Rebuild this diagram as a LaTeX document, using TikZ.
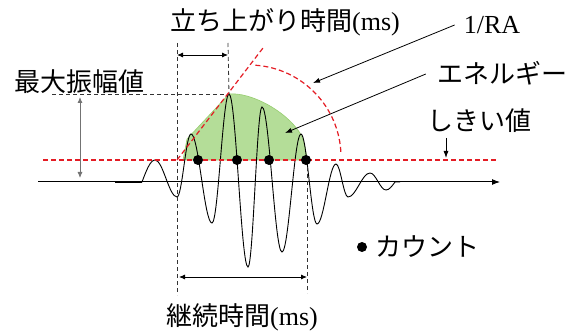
\documentclass[tikz,border=0pt]{standalone}
\usepackage{fontspec}
\setmainfont{Liberation Serif}
\newfontfamily\jp{Noto Sans CJK JP}
\usetikzlibrary{arrows.meta,calc}
\definecolor{dashred}{RGB}{228,28,36}
\definecolor{envgreen}{RGB}{180,221,152}
\definecolor{envedge}{RGB}{150,205,110}
\begin{document}
\begin{tikzpicture}[x=1pt,y=-1pt,
  lbl/.style={inner sep=0pt, font=\fontsize{26}{30}\selectfont},
  blackdash/.style={draw=black!80, dash pattern=on 4pt off 3pt, line width=0.8pt},
  reddash/.style={draw=dashred, dash pattern=on 5pt off 3pt, line width=1.2pt},
  wave/.style={line width=0.9pt, black},
  dimarrow/.style={{Latex[length=6pt,width=5pt]}-{Latex[length=6pt,width=5pt]}, line width=0.8pt},
  ptr/.style={-{Latex[length=7pt,width=5pt]}, line width=0.8pt},
  cnt/.style={circle, fill=black, inner sep=0pt, minimum size=10pt}
]
\useasboundingbox (0,0) rectangle (576,334);

% energy envelope
\fill[envgreen, draw=envedge, line width=0.6pt] (183,160) -- (187,139) -- (229,94)
  .. controls (250,92) and (285,110) .. (300,133)
  .. controls (304,140) and (306,150) .. (307,160) -- cycle;

% coordinates
\coordinate (thL) at (43,160);
\coordinate (thR) at (498,160);
\coordinate (baseL) at (38,182);
\coordinate (baseR) at (500,182);
\coordinate (peak) at (229,94);
\coordinate (slopeA) at (177,160);
\coordinate (slopeB) at (263,48);
\coordinate (arcC) at (249,157);

% baseline
\draw[line width=1pt, -{Latex[length=8pt,width=6pt]}] (baseL) -- (baseR);
\draw[line width=2pt] (115,182) -- (142,182);

% waveform
\draw[wave] (115,182) -- (142,182) sin (155,160) cos (166,178.5) sin (177,197)
  cos (184,165.5) sin (191,134) cos (201.5,178.5) sin (212,223)
  cos (220.5,158.5) sin (229,94) cos (238.5,180.5) sin (248,267)
  cos (255,187) sin (262,107) cos (272,179.5) sin (282,252)
  cos (291.5,193) sin (301,134) cos (309,179) sin (317,224)
  cos (326.5,194) sin (336,164) cos (342,180.5) sin (348,197)
  cos (359,185) sin (370,173) cos (378,181.5) sin (386,190)
  cos (395,182) -- (400,182);

% dashed guide lines
\coordinate (vL1) at (177,43);
\coordinate (vL2) at (177,295);
\coordinate (vM1) at (228,43);
\coordinate (vR1) at (307,160);
\coordinate (vR2) at (307,293);
\coordinate (hA) at (52,94);
\draw[blackdash] (vL1) -- (vL2);
\draw[blackdash] (vM1) -- (peak);
\draw[blackdash] (vR1) -- (vR2);
\draw[blackdash] (hA) -- (peak);

% threshold and rise slope
\draw[reddash] (thL) -- (thR);
\draw[reddash] (slopeA) -- (slopeB);
\draw[reddash] ($(arcC)+(-86:92)$) arc[start angle=-86, end angle=-2, radius=92];

% count dots
\node[cnt] (d1) at (198,160) {};
\node[cnt] (d2) at (237,160) {};
\node[cnt] (d3) at (269,160) {};
\node[cnt] (d4) at (306,160) {};

% dimension arrows
\coordinate (r1) at (177,55);
\coordinate (r2) at (228,55);
\draw[dimarrow] (r1) -- (r2);
\coordinate (u1) at (179,277);
\coordinate (u2) at (307,277);
\draw[dimarrow] (u1) -- (u2);
\coordinate (m1) at (80,97);
\coordinate (m2) at (80,178);
\draw[dimarrow, draw=black!55] (m1) -- (m2);

% labels
\node[lbl] (amp) at (80,82) {\jp 最大振幅値};
\node[lbl] (rise) at (285,22) {{\jp 立ち上がり時間}(ms)};
\node[lbl] (ra) at (492,25) {1/RA};
\node[lbl] (en) at (502,73) {\jp エネルギー};
\node[lbl] (th) at (479,121) {\jp しきい値};
\node[lbl] (dur) at (242,317) {{\jp 継続時間}(ms)};
\node[cnt] (cdot) at (362,247) {};
\node[lbl, anchor=west] (cnttext) at (375,247) {\jp カウント};

% pointers
\coordinate (raTip) at (313,83);
\coordinate (enTip) at (285,133);
\coordinate (thTop) at (446,138);
\coordinate (thTip) at (446,158);
\draw[ptr] (ra.west) ++(-9,0) -- (raTip);
\draw[ptr] (en.west) ++(-11,1) -- (enTip);
\draw[ptr] (thTop) -- (thTip);
\end{tikzpicture}
\end{document}
